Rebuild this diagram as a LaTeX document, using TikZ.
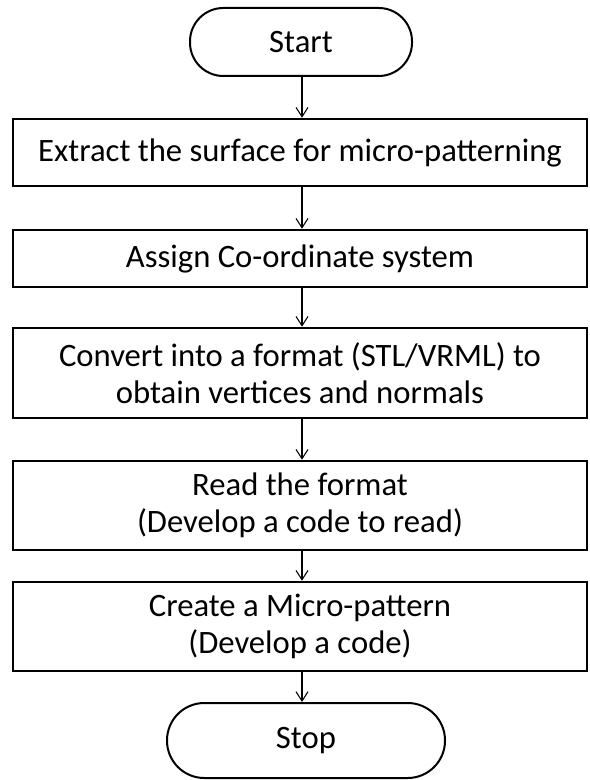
\documentclass[tikz,border=0pt]{standalone}
\usepackage{fontspec}
\setmainfont{Carlito}
\usetikzlibrary{arrows.meta}
\begin{document}
\begin{tikzpicture}[x=0.75pt, y=-0.75pt,
  every node/.style={font=\fontsize{24.5pt}{27.75pt}\selectfont, align=center, inner sep=0pt},
  procbox/.style={draw, line width=1.9pt, minimum width=430.5pt},
  terminal/.style={draw, line width=1.5pt, rounded corners=#1},
  flow/.style={line width=0.8pt, -{Straight Barb[length=7pt, width=9pt, line width=0.8pt]}}
]
\useasboundingbox (0,0) rectangle (589,780);

\node[terminal=25pt, minimum width=166.5pt, minimum height=51pt] (start) at (301,42) {Start};
\node[procbox, minimum height=50.25pt] (extract) at (300,152.5) {Extract the surface for micro-patterning};
\node[procbox, minimum height=42.75pt] (assign) at (300,258.5) {Assign Co-ordinate system};
\node[procbox, minimum height=67.5pt] (convert) at (300,373) {Convert into a format (STL/VRML) to\\obtain vertices and normals};
\node[procbox, minimum height=66.75pt] (read) at (300,505.5) {Read the format\\(Develop a code to read)};
\node[procbox, minimum height=66.75pt] (create) at (300,626.5) {Create a Micro-pattern\\(Develop a code)};
\node[terminal=28pt, minimum width=208.5pt, minimum height=56.25pt] (stop) at (306,740.5) {Stop};

\draw[flow] (start.south -| 302,0) -- (extract.north -| 302,0);
\draw[flow] (extract.south -| 302,0) -- (assign.north -| 302,0);
\draw[flow] (assign.south -| 302,0) -- (convert.north -| 302,0);
\draw[flow] (convert.south -| 302,0) -- (read.north -| 302,0);
\draw[flow] (read.south -| 302,0) -- (create.north -| 302,0);
\draw[flow] (create.south -| 302,0) -- (stop.north -| 302,0);
\end{tikzpicture}
\end{document}
